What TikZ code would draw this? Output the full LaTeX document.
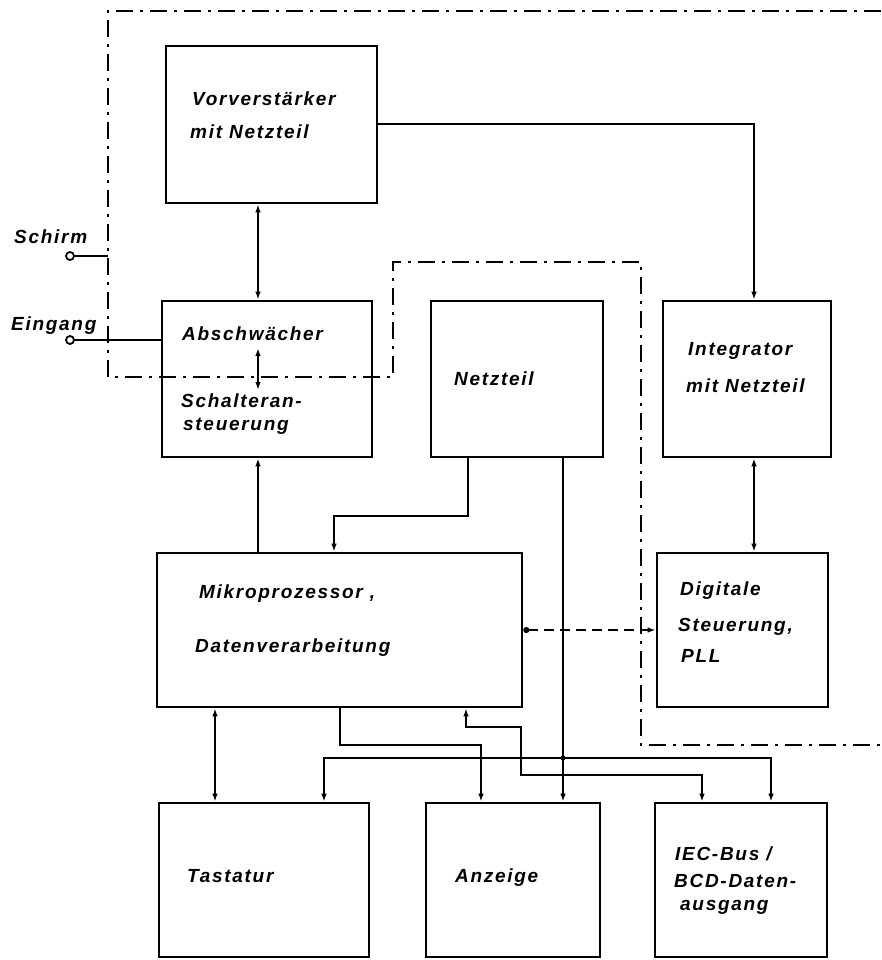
\documentclass[tikz,border=0pt]{standalone}
\usepackage{fontspec}
\newfontfamily\lblfam{Liberation Sans}[LetterSpace=9]
\usetikzlibrary{arrows.meta}
\begin{document}
\begin{tikzpicture}[x=1pt,y=-1pt,
  box/.style={draw,line width=2.6pt,inner sep=0pt},
  lbl/.style={anchor=base west,inner sep=0pt,font=\lblfam\bfseries\itshape\fontsize{19}{23}\selectfont},
  conn/.style={line width=2pt},
  arr/.style={conn,-{Latex[length=8pt,width=5.5pt]}},
  dbl/.style={conn,{Latex[length=8pt,width=5.5pt]}-{Latex[length=8pt,width=5.5pt]}},
  shield/.style={line width=2.4pt,dash pattern=on 17pt off 7pt on 3pt off 7pt},
  term/.style={circle,draw,line width=1.8pt,fill=white,minimum size=8pt,inner sep=0pt}]
\useasboundingbox (0,0) rectangle (881,960);
% shield boundary
\draw[shield] (881,11) -- (108,11) -- (108,377) -- (393,377) -- (393,262) -- (641,262) -- (641,745) -- (881,745);
% boxes
\node[box,minimum width=211pt,minimum height=157pt] (vor) at (271.5,124.5) {};
\node[box,minimum width=210pt,minimum height=156pt] (abs) at (267,379) {};
\node[box,minimum width=172pt,minimum height=156pt] (netz) at (517,379) {};
\node[box,minimum width=168pt,minimum height=156pt] (integ) at (747,379) {};
\node[box,minimum width=365pt,minimum height=154pt] (mikro) at (339.5,630) {};
\node[box,minimum width=171pt,minimum height=154pt] (dig) at (742.5,630) {};
\node[box,minimum width=210pt,minimum height=154pt] (tast) at (264,880) {};
\node[box,minimum width=174pt,minimum height=154pt] (anz) at (513,880) {};
\node[box,minimum width=172pt,minimum height=154pt] (iec) at (741,880) {};
% texts
\node[lbl] (t1) at (192,106) {Vorverstärker};
\node[lbl] (t2) at (190,139) {mit Netzteil};
\node[lbl] (t3) at (182,340) {Abschwächer};
\node[lbl] (t4) at (181,407) {Schalteran-};
\node[lbl] (t5) at (183,430) {steuerung};
\node[lbl] (t6) at (454,385) {Netzteil};
\node[lbl] (t7) at (688,355) {Integrator};
\node[lbl] (t8) at (686,392) {mit Netzteil};
\node[lbl] (t9) at (199,598) {Mikroprozessor ,};
\node[lbl] (t10) at (195,652) {Datenverarbeitung};
\node[lbl] (t11) at (680,595) {Digitale};
\node[lbl] (t12) at (678,631) {Steuerung,};
\node[lbl] (t13) at (681,662) {PLL};
\node[lbl] (t14) at (187,882) {Tastatur};
\node[lbl] (t15) at (455,882) {Anzeige};
\node[lbl] (t16) at (675,860) {IEC-Bus /};
\node[lbl] (t17) at (674,887) {BCD-Daten-};
\node[lbl] (t18) at (680,910) {ausgang};
\node[lbl] (t19) at (14,243) {Schirm};
\node[lbl] (t20) at (11,330) {Eingang};
% terminals
\node[term] (schirm) at (70,256) {};
\node[term] (ein) at (70,340) {};
\coordinate (shpt) at (108,256);
\draw[conn] (schirm) -- (shpt);
\draw[conn] (ein) -- (ein -| abs.west);
% connectors
\draw[dbl] ([xshift=-13.5pt]vor.south) -- ([xshift=-13.5pt]vor.south |- abs.north);
\draw[dbl] ([shift={(-9,-31)}]abs.center) -- ([shift={(-9,11)}]abs.center);
\draw[arr] (vor.east) -| ([xshift=7pt]integ.north);
\draw[dbl] ([xshift=7pt]integ.south) -- ([xshift=7pt]integ.south |- dig.north);
\draw[arr] ([xshift=-9pt]abs.south |- mikro.north) -- ([xshift=-9pt]abs.south);
\draw[arr] ([xshift=-49pt]netz.south) -- ++(0,58) -| ([xshift=-5.5pt]mikro.north);
\draw[arr] ([xshift=46pt]netz.south) -- ([xshift=46pt]netz.south |- anz.north);
\coordinate (j) at (563,758);
\fill (j) circle (2.6pt);
\draw[arr] (j) -| ([xshift=60pt]tast.north);
\draw[arr] (j) -| ([xshift=30pt]iec.north);
\draw[dbl] ([xshift=-49pt]tast.north |- mikro.south) -- ([xshift=-49pt]tast.north);
\draw[arr] (mikro.south) -- ++(0,37) -| ([xshift=-32pt]anz.north);
\draw[dbl] ([xshift=-39pt]iec.north) -- ++(0,-27) -| (521,727) -| ([xshift=126.5pt]mikro.south);
\draw[conn,dash pattern=on 10pt off 6pt,{Circle[length=6pt]}-{Latex[length=8pt,width=5.5pt]}] (mikro.east) -- (mikro.east -| dig.west);
\end{tikzpicture}
\end{document}
